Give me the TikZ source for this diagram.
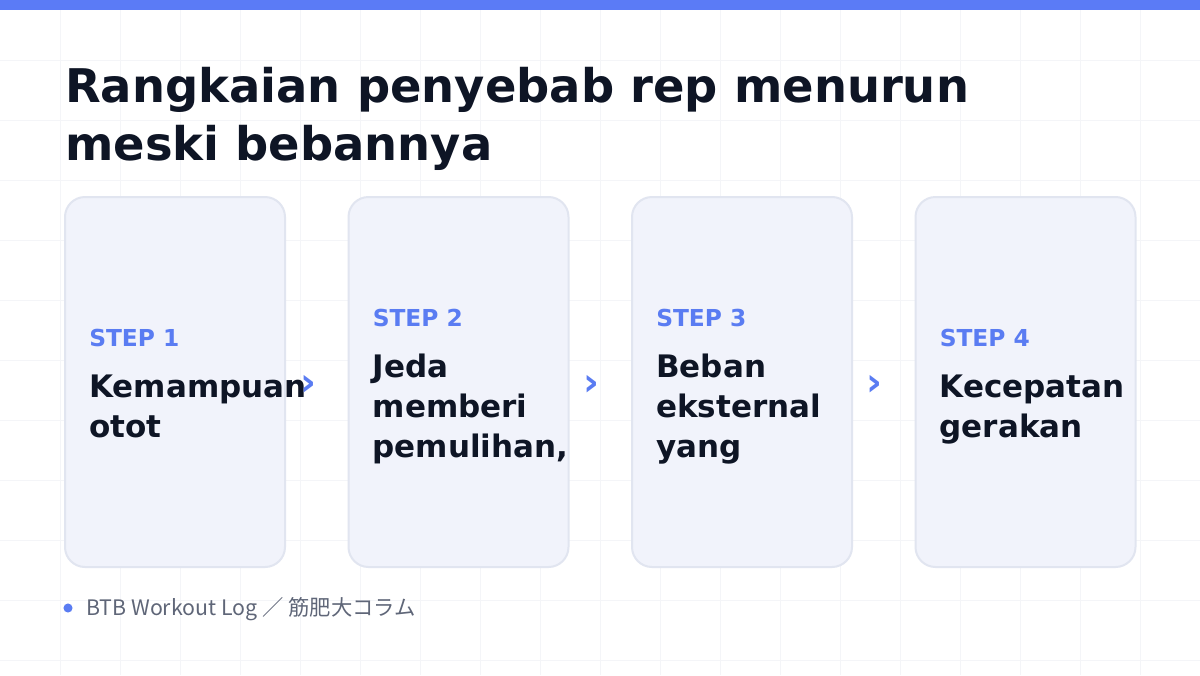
\documentclass[tikz,border=0pt]{standalone}
\usepackage{fontspec}
\setmainfont{DejaVu Sans}
\newfontfamily\cjk{Noto Sans CJK JP}
\usepackage{tikz}

\definecolor{barblue}{HTML}{5B7BF6}
\definecolor{stepblue}{HTML}{5A7CF2}
\definecolor{cardfill}{HTML}{F1F3FB}
\definecolor{cardline}{HTML}{E1E5F0}
\definecolor{inkdark}{HTML}{0E1525}
\definecolor{inkgray}{HTML}{5F6678}
\definecolor{gridgray}{HTML}{F4F5F8}

\begin{document}
\begin{tikzpicture}[x=0.75pt, y=-0.75pt]
	\tikzstyle{step_card} = [draw=cardline, fill=cardfill, line width=1.5pt, rounded corners=15pt, minimum width=165pt, minimum height=277.5pt, inner sep=0pt]
	\tikzstyle{step_label} = [anchor=base west, inner sep=0pt, text=stepblue, font=\fontsize{17.5pt}{20pt}\selectfont\bfseries]
	\tikzstyle{step_text} = [anchor=base west, inner sep=0pt, text=inkdark, font=\fontsize{23.25pt}{28pt}\selectfont\bfseries]
	\tikzstyle{title_text} = [anchor=base west, inner sep=0pt, text=inkdark, font=\fontsize{34.8pt}{40pt}\selectfont\bfseries]
	\tikzstyle{chevron} = [inner sep=0pt, text=stepblue, font=\fontsize{29pt}{30pt}\selectfont\bfseries]

	\useasboundingbox (0,0) rectangle (1200,675);
	\fill[white] (0,0) rectangle (1200,675);
	\foreach \gx in {60,120,...,1140} \draw[gridgray, line width=0.75pt] (\gx,0) -- (\gx,675);
	\foreach \gy in {60,120,...,660} \draw[gridgray, line width=0.75pt] (0,\gy) -- (1200,\gy);
	\fill[barblue] (0,0) rectangle (1200,10);

%------------------------------------------------------------
	\node[title_text] (title1) at (65,102) {Rangkaian penyebab rep menurun};
	\node[title_text] (title2) at (65,160) {meski bebannya};

%------------------------------------------------------------
	\node[step_card] (c1) at (175,382) {};
	\node[step_label] (s1) at (89,346) {STEP 1};
	\node[step_text] (t1a) at (89,397) {Kemampuan};
	\node[step_text] (t1b) at (89,437) {otot};

%------------------------------------------------------------
	\node[step_card] (c2) at (458.5,382) {};
	\node[step_label] (s2) at (372.5,326) {STEP 2};
	\node[step_text] (t2a) at (372.5,377) {Jeda};
	\node[step_text] (t2b) at (372.5,417) {memberi};
	\node[step_text] (t2c) at (372.5,457) {pemulihan,};

%------------------------------------------------------------
	\node[step_card] (c3) at (742,382) {};
	\node[step_label] (s3) at (656,326) {STEP 3};
	\node[step_text] (t3a) at (656,377) {Beban};
	\node[step_text] (t3b) at (656,417) {eksternal};
	\node[step_text] (t3c) at (656,457) {yang};

%------------------------------------------------------------
	\node[step_card] (c4) at (1025.5,382) {};
	\node[step_label] (s4) at (939.5,346) {STEP 4};
	\node[step_text] (t4a) at (939.5,397) {Kecepatan};
	\node[step_text] (t4b) at (939.5,437) {gerakan};

%------------------------------------------------------------
	\node[chevron] (a12) at (308,385) {›};
	\node[chevron] (a23) at (591,385) {›};
	\node[chevron] (a34) at (874,385) {›};

%------------------------------------------------------------
	\fill[stepblue] (68,608) circle (3.4pt);
	\node[anchor=base west, inner sep=0pt, text=inkgray, font=\cjk\fontsize{16pt}{18pt}\selectfont] (foot) at (86,615) {BTB Workout Log ／ 筋肥大コラム};
\end{tikzpicture}
\end{document}
